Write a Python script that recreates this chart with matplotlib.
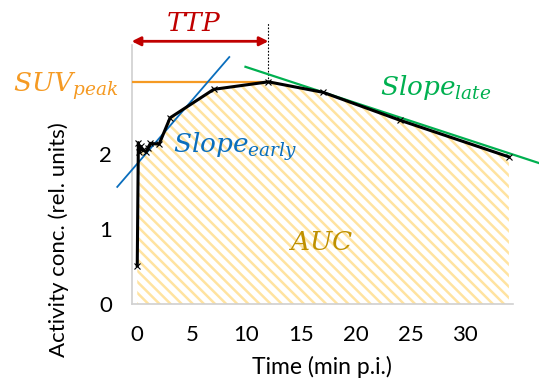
import matplotlib.pyplot as plt
import numpy as np

# time activity curve (min p.i. / rel. units)
time = [0, 0.1, 0.2, 0.3, 0.5, 0.8, 1.0, 1.2, 2.0, 3.0, 7.0, 12.0, 17.0, 24.0, 34.0]
conc = [0.51, 2.15, 2.02, 2.10, 2.05, 2.03, 2.08, 2.14, 2.13, 2.48, 2.86, 2.96, 2.82, 2.45, 1.96]

# fitted slope lines (end points)
early_x = [-1.83, 8.42]
early_y = [1.56, 3.29]
late_x = [9.9, 36.7]
late_y = [3.16, 1.88]

xticks = [0, 5, 10, 15, 20, 25, 30]
yticks = [0, 1, 2]

plt.rcParams['font.family'] = ['Lato', 'DejaVu Sans']
plt.rcParams['mathtext.fontset'] = 'custom'
plt.rcParams['mathtext.it'] = 'DejaVu Serif:italic'
plt.rcParams['mathtext.rm'] = 'DejaVu Serif'
plt.rcParams['hatch.linewidth'] = 1.8

fig = plt.figure(figsize=(5.39, 3.90), dpi=100)
ax = fig.add_axes([0.2443, 0.2205, 0.708, 0.664])

xlo, xhi = -0.51, 34.4
ax.set_xlim(xlo, xhi)
ax.set_ylim(0, 3.45)

# area under curve, hatched
ax.fill_between(time, conc, 0, facecolor='none', edgecolor='#FFE3A0',
                hatch='\\\\\\', linewidth=0)

t = np.array(time)
c = np.array(conc)
ipk = int(np.argmax(c))
ttp, peak = t[ipk], c[ipk]

# SUV peak line
ax.plot([xlo, ttp], [peak, peak], color='#F59A23', lw=1.6, zorder=3)

# slopes
ax.plot(early_x, early_y, color='#0A6EBD', lw=1.3, clip_on=False, zorder=4)
ax.plot(late_x, late_y, color='#00B050', lw=1.6, clip_on=False, zorder=4)

# curve
ax.plot(t, c, color='black', lw=2.2, marker='x', ms=5, mew=0.8, zorder=5)

# TTP arrow and marker line
ax.plot([ttp, ttp], [peak, 3.76], color='black', lw=0.8, ls=(0, (1.5, 1.5)),
        clip_on=False)
ax.annotate('', xy=(ttp, 3.5), xytext=(xlo, 3.5), annotation_clip=False,
            arrowprops=dict(arrowstyle='<|-|>', color='#C00000', lw=2,
                            mutation_scale=13, shrinkA=0, shrinkB=0))

ax.text(5.2, 3.64, r'$TTP$', color='#C00000', fontsize=19, ha='center',
        va='baseline')
ax.text(-1.74, 2.83, r'$SUV_{peak}$', color='#F59A23', fontsize=19, ha='right',
        va='baseline', clip_on=False)
ax.text(3.27, 2.01, r'$Slope_{early}$', color='#0A6EBD', fontsize=19,
        ha='left', va='baseline')
ax.text(22.2, 2.79, r'$Slope_{late}$', color='#00B050', fontsize=19,
        ha='left', va='baseline')
ax.text(16.8, 0.72, r'$AUC$', color='#BF9000', fontsize=19, ha='center',
        va='baseline')

# axes styling
for s in ['top', 'right']:
    ax.spines[s].set_visible(False)
for s in ['left', 'bottom']:
    ax.spines[s].set_color('#D0D0D0')
    ax.spines[s].set_linewidth(1.2)
ax.set_xticks(xticks)
ax.set_yticks(yticks)
ax.tick_params(length=0, labelsize=16)
ax.tick_params(axis='x', pad=15)
ax.tick_params(axis='y', pad=14)

ax.set_xlabel('Time (min p.i.)', fontsize=16.5)
ax.xaxis.set_label_coords(0.499, -0.2)
ax.set_ylabel('Activity conc. (rel. units)', fontsize=16)
ax.yaxis.set_label_coords(-0.165, 0.247)

fig.savefig('out.png', dpi=100)
